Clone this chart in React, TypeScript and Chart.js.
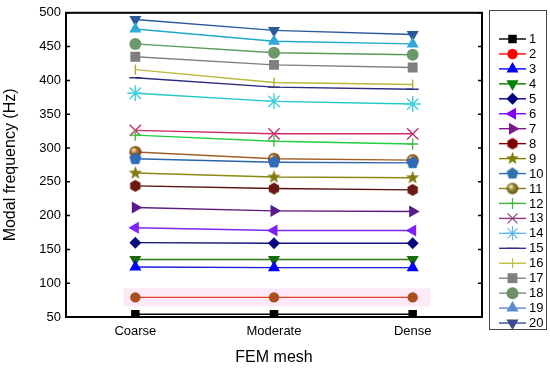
import React, { useEffect, useRef } from 'react';
import { Chart, registerables } from 'chart.js';
import { drawPoint } from 'chart.js/helpers';

Chart.register(...registerables);

// ---------- data ----------
const categories = ['Coarse', 'Moderate', 'Dense'];
const modeLabels = ['1', '2', '3', '4', '5', '6', '7', '8', '9', '10', '11', '12', '13', '14', '15', '16', '17', '18', '19', '20'];
const mode1 = [54, 54, 54];
const mode2 = [79, 79, 79];
const mode3 = [124, 123, 123];
const mode4 = [135, 135, 135];
const mode5 = [160, 159, 159];
const mode6 = [182, 178, 178];
const mode7 = [212, 207, 206];
const mode8 = [244, 240, 238];
const mode9 = [263, 257, 256];
const mode10 = [284, 279, 278];
const mode11 = [294, 284, 282];
const mode12 = [319, 310, 306];
const mode13 = [326, 321, 321];
const mode14 = [381, 369, 365];
const mode15 = [404, 390, 387];
const mode16 = [416, 397, 394];
const mode17 = [435, 423, 419];
const mode18 = [454, 441, 438];
const mode19 = [476, 458, 454];
const mode20 = [490, 474, 468];
const yTicks = [50, 100, 150, 200, 250, 300, 350, 400, 450, 500];

const seriesValues = [mode1, mode2, mode3, mode4, mode5, mode6, mode7, mode8, mode9, mode10,
  mode11, mode12, mode13, mode14, mode15, mode16, mode17, mode18, mode19, mode20];

// ---------- styles ----------
const FONT = "'Liberation Sans', Arial, Helvetica, sans-serif";

const lineColors = ['#000000', '#e8401c', '#1a1ad8', '#2a7a18', '#10107a', '#7a2af0', '#5a1a7a', '#5a1010', '#8a8a10', '#2a64a8',
  '#a0602a', '#20d040', '#d02a6a', '#20c8c8', '#2a2a80', '#b8b83a', '#808080', '#5a9a5a', '#20a8c8', '#2a5a9a'];
const markerColors = ['#000000', '#a8501e', '#0000ff', '#1a6a10', '#0a0a80', '#7f22ff', '#5a1a8a', '#6a1a10', '#807a10', '#2e6cb8',
  '#9a5a1e', '#40c040', '#c03070', '#40d0d8', '#303080', '#b0b030', '#7f7f7f', '#6a9a6a', '#30a8d8', '#2a5a98'];
const legendColors = ['#000000', '#ff0000', '#0000ff', '#007f00', '#00007f', '#8000ff', '#7a1a8a', '#7f0000', '#808000', '#3070b0',
  '#8a7a20', '#40b040', '#8a3a7a', '#60b8e8', '#303090', '#c0c040', '#808080', '#70906a', '#5a8ad0', '#3a4a90'];
const rotations = [0, 0, 0, 180, 0, 270, 90, 0, 0, 0, 0, 0, 0, 0, 0, 90, 0, 0, 0, 180];
const radii = [6, 5.2, 7, 7, 6, 7, 7, 5, 6, 6, 5.5, 5.5, 8, 8, 6, 5, 7, 6, 7, 7];

function makeCanvas(size: number, draw: (c: CanvasRenderingContext2D, m: number) => void) {
  const cv = document.createElement('canvas');
  cv.width = size;
  cv.height = size;
  const c = cv.getContext('2d')!;
  draw(c, size / 2);
  return cv;
}

function polygon(size: number, n: number, rot: number, r: number, color: string) {
  return makeCanvas(size, (c, m) => {
    c.beginPath();
    for (let k = 0; k < n; k++) {
      const a = rot + (2 * Math.PI * k) / n;
      const x = m + r * Math.cos(a);
      const y = m + r * Math.sin(a);
      if (k === 0) c.moveTo(x, y); else c.lineTo(x, y);
    }
    c.closePath();
    c.fillStyle = color;
    c.fill();
  });
}

function star(size: number, ro: number, ri: number, color: string) {
  return makeCanvas(size, (c, m) => {
    c.beginPath();
    for (let k = 0; k < 10; k++) {
      const a = -Math.PI / 2 + (Math.PI * k) / 5;
      const r = k % 2 === 0 ? ro : ri;
      const x = m + r * Math.cos(a);
      const y = m + r * Math.sin(a);
      if (k === 0) c.moveTo(x, y); else c.lineTo(x, y);
    }
    c.closePath();
    c.fillStyle = color;
    c.fill();
  });
}

function sphere(size: number, r: number, light: string, mid: string, dark: string) {
  return makeCanvas(size, (c, m) => {
    const g = c.createRadialGradient(m - r * 0.35, m - r * 0.4, 0.5, m, m, r);
    g.addColorStop(0, light);
    g.addColorStop(0.45, mid);
    g.addColorStop(1, dark);
    c.beginPath();
    c.arc(m, m, r, 0, Math.PI * 2);
    c.fillStyle = g;
    c.fill();
  });
}

export default function App() {
  const ref = useRef<HTMLCanvasElement | null>(null);

  useEffect(() => {
    document.body.style.margin = '0';
    const canvas = ref.current;
    if (!canvas) return;

    const pentagonPlot = polygon(14, 5, -Math.PI / 2, 6.4, markerColors[9]);
    const hexPlot = polygon(14, 6, -Math.PI / 2, 6, markerColors[7]);
    const starPlot = star(15, 7, 2.9, markerColors[8]);
    const spherePlot = sphere(14, 6, '#f6e0b0', '#b0702a', '#6a3a0a');
    const pentagonLeg = polygon(14, 5, -Math.PI / 2, 6.2, legendColors[9]);
    const hexLeg = polygon(14, 6, -Math.PI / 2, 5.8, legendColors[7]);
    const starLeg = star(15, 6.8, 2.8, legendColors[8]);
    const sphereLeg = sphere(14, 5.8, '#f0f0c0', '#9a8a30', '#5a4a10');

    const plotStyles: any[] = ['rect', 'circle', 'triangle', 'triangle', 'rectRot', 'triangle', 'triangle', hexPlot, starPlot, pentagonPlot,
      spherePlot, 'cross', 'crossRot', 'star', 'line', 'line', 'rect', 'circle', 'triangle', 'triangle'];
    const legStyles: any[] = ['rect', 'circle', 'triangle', 'triangle', 'rectRot', 'triangle', 'triangle', hexLeg, starLeg, pentagonLeg,
      sphereLeg, 'cross', 'crossRot', 'star', 'line', 'line', 'rect', 'circle', 'triangle', 'triangle'];
    const strokeOnly = [11, 12, 13, 14, 15];

    const datasets = seriesValues.map((vals, i) => ({
      label: modeLabels[i],
      data: vals,
      borderColor: lineColors[i],
      backgroundColor: markerColors[i],
      borderWidth: 1.4,
      pointStyle: plotStyles[i],
      pointRotation: rotations[i],
      pointRadius: radii[i],
      pointBackgroundColor: markerColors[i],
      pointBorderColor: markerColors[i],
      pointBorderWidth: strokeOnly.includes(i) ? 1.4 : 0,
      tension: 0,
      fill: false,
    }));

    const framePlugin = {
      id: 'frame',
      beforeDatasetsDraw(chart: any) {
        const { ctx, chartArea, scales } = chart;
        const { left, right, top, bottom } = chartArea;
        ctx.save();
        // faint pink halo behind mode 2 (as in the source figure)
        const x0 = scales.x.getPixelForValue(0) - 12;
        const x1 = scales.x.getPixelForValue(categories.length - 1) + 18;
        const yc = scales.y.getPixelForValue(mode2[0]);
        ctx.fillStyle = 'rgba(252, 225, 244, 0.75)';
        ctx.fillRect(x0, yc - 9, x1 - x0, 18);

        ctx.strokeStyle = '#000';
        ctx.lineWidth = 2;
        ctx.strokeRect(left, top, right - left, bottom - top);
        ctx.lineWidth = 1.5;
        yTicks.forEach((v) => {
          const py = scales.y.getPixelForValue(v);
          ctx.beginPath();
          ctx.moveTo(left, py);
          ctx.lineTo(left + 4, py);
          ctx.moveTo(right, py);
          ctx.lineTo(right - 4, py);
          ctx.stroke();
        });
        ctx.restore();
      },
      afterDraw(chart: any) {
        const { ctx } = chart;
        ctx.save();
        // legend box
        const bx = 489.5, by = 10.5, bw = 57, bh = 319;
        ctx.fillStyle = '#ffffff';
        ctx.fillRect(bx, by, bw, bh);
        ctx.strokeStyle = '#444';
        ctx.lineWidth = 1;
        ctx.strokeRect(bx, by, bw, bh);
        const x0 = 499, x1 = 526, mx = 512.5;
        modeLabels.forEach((lab, i) => {
          const y = 39 + i * 14.95;
          ctx.strokeStyle = legendColors[i];
          ctx.lineWidth = 1.4;
          ctx.beginPath();
          ctx.moveTo(x0, y);
          ctx.lineTo(x1, y);
          ctx.stroke();
          ctx.fillStyle = legendColors[i];
          ctx.strokeStyle = legendColors[i];
          ctx.lineWidth = 1.2;
          drawPoint(ctx, {
            pointStyle: legStyles[i],
            rotation: rotations[i],
            radius: Math.min(radii[i], 7),
            borderWidth: strokeOnly.includes(i) ? 1.2 : 0,
          } as any, mx, y);
          ctx.fillStyle = '#000';
          ctx.font = `13px ${FONT}`;
          ctx.textAlign = 'left';
          ctx.textBaseline = 'middle';
          ctx.fillText(lab, 529, y + 0.5);
        });
        ctx.restore();
      },
    };

    const chart = new Chart(canvas, {
      type: 'line',
      data: { labels: categories, datasets },
      options: {
        responsive: false,
        animation: false,
        devicePixelRatio: 1,
        layout: { padding: { top: 11, right: 68, left: 0, bottom: 0 } },
        plugins: {
          legend: { display: false },
          tooltip: { enabled: false },
        },
        scales: {
          x: {
            type: 'category',
            offset: true,
            grid: { display: false, drawTicks: false },
            border: { display: false },
            ticks: { color: '#000', font: { family: FONT, size: 13 }, padding: 7, maxRotation: 0 },
            title: {
              display: true,
              text: 'FEM mesh',
              color: '#000',
              font: { family: FONT, size: 16 },
              padding: { top: 0, bottom: 1 },
            },
            afterFit: (s: any) => { s.height = 51; },
          },
          y: {
            type: 'linear',
            min: 50,
            max: 500,
            grid: { display: false, drawTicks: false },
            border: { display: false },
            ticks: {
              stepSize: 50,
              color: '#000',
              font: { family: FONT, size: 13 },
              padding: 5,
            },
            title: {
              display: true,
              text: 'Modal frequency (Hz)',
              color: '#000',
              font: { family: FONT, size: 16 },
              padding: { top: 1, bottom: 0 },
            },
            afterFit: (s: any) => { s.width = 66; },
          },
        },
      },
      plugins: [framePlugin],
    });

    return () => chart.destroy();
  }, []);

  return (
    <div style={{ position: 'fixed', left: 0, top: 0, width: 550, height: 368, background: '#fff' }}>
      <canvas ref={ref} width={550} height={368} style={{ display: 'block' }} />
    </div>
  );
}
